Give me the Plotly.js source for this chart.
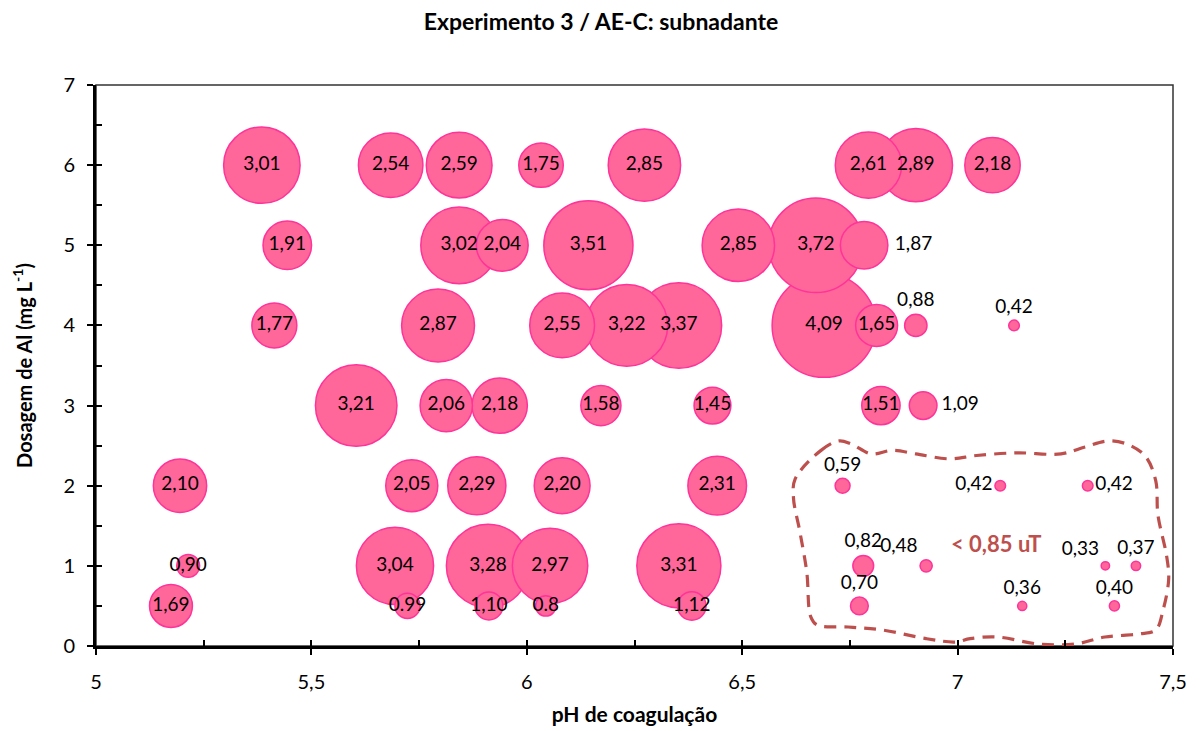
<!DOCTYPE html>
<html>
<head>
<meta charset="utf-8">
<script src="https://cdn.plot.ly/plotly-3.0.1.min.js"></script>
<style>
  html, body { margin: 0; padding: 0; background: #fff; }
  #chart { width: 1202px; height: 731px; }
</style>
</head>
<body>
<div id="chart"></div>
<script>
// Coagulation pH of each jar test
const phValues = [
  5.385, 5.684, 5.843, 6.033, 6.273, 6.793, 6.903, 7.081,
  5.444, 5.843, 5.943, 6.143, 6.491, 6.671, 6.783,
  5.414, 5.794, 6.082, 6.232, 6.353, 6.690, 6.812, 6.903, 7.131,
  5.604, 5.813, 5.937, 6.172, 6.431, 6.822, 6.920,
  5.195, 5.733, 5.884, 6.082, 6.442, 6.733, 7.099, 7.302,
  5.214, 5.694, 5.910, 6.054, 6.353, 6.781, 6.927, 7.343, 7.414,
  5.174, 5.723, 5.912, 6.044, 6.383, 6.772, 7.150, 7.364
];

// Aluminium dosage (mg/L)
const alDoses = [
  6, 6, 6, 6, 6, 6, 6, 6,
  5, 5, 5, 5, 5, 5, 5,
  4, 4, 4, 4, 4, 4, 4, 4, 4,
  3, 3, 3, 3, 3, 3, 3,
  2, 2, 2, 2, 2, 2, 2, 2,
  1, 1, 1, 1, 1, 1, 1, 1, 1,
  0.5, 0.5, 0.5, 0.5, 0.5, 0.5, 0.5, 0.5
];

// Residual turbidity of the supernatant (bubble size)
const turbidity = [
  3.01, 2.54, 2.59, 1.75, 2.85, 2.61, 2.89, 2.18,
  1.91, 3.02, 2.04, 3.51, 2.85, 3.72, 1.87,
  1.77, 2.87, 2.55, 3.22, 3.37, 4.09, 1.65, 0.88, 0.42,
  3.21, 2.06, 2.18, 1.58, 1.45, 1.51, 1.09,
  2.10, 2.05, 2.29, 2.20, 2.31, 0.59, 0.42, 0.42,
  0.90, 3.04, 3.28, 2.97, 3.31, 0.82, 0.48, 0.33, 0.37,
  1.69, 0.99, 1.10, 0.80, 1.12, 0.70, 0.36, 0.40
];

// Label text printed for each bubble
const turbidityLabels = [
  '3,01', '2,54', '2,59', '1,75', '2,85', '2,61', '2,89', '2,18',
  '1,91', '3,02', '2,04', '3,51', '2,85', '3,72', '1,87',
  '1,77', '2,87', '2,55', '3,22', '3,37', '4,09', '1,65', '0,88', '0,42',
  '3,21', '2,06', '2,18', '1,58', '1,45', '1,51', '1,09',
  '2,10', '2,05', '2,29', '2,20', '2,31', '0,59', '0,42', '0,42',
  '0,90', '3,04', '3,28', '2,97', '3,31', '0,82', '0,48', '0,33', '0,37',
  '1,69', '0.99', '1,10', '0.8', '1,12', '0,70', '0,36', '0,40'
];

// Outline around the low-turbidity region (pH, dosage)
const regionPh = [
  6.623, 6.683, 6.725, 6.753, 6.800, 6.848, 6.903, 6.981, 7.044, 7.138, 7.240,
  7.296, 7.351, 7.398, 7.437, 7.460, 7.465, 7.485, 7.490, 7.477, 7.460, 7.421,
  7.342, 7.273, 7.187, 7.092, 7.029, 6.996, 6.927, 6.825, 6.746, 6.674, 6.659,
  6.650, 6.634, 6.619, 6.623
];
const regionDose = [
  2.085, 2.441, 2.559, 2.522, 2.397, 2.441, 2.397, 2.335, 2.377, 2.410, 2.397,
  2.484, 2.559, 2.509, 2.360, 2.060, 1.635, 1.129, 0.836, 0.449, 0.200, 0.150,
  0.112, 0.025, 0.025, 0.112, 0.092, 0.050, 0.092, 0.200, 0.237, 0.262, 0.367,
  0.918, 1.423, 1.848, 2.085
];

const regionText = '< 0,85 uT';
const xTicks = [5, 5.5, 6, 6.5, 7, 7.5];
const yTicks = [0, 1, 2, 3, 4, 5, 6, 7];

// Where each label sits relative to its bubble
const labelSide = {
  '6.783|5': 'middle right', '6.92|3': 'middle right', '7.302|2': 'middle right',
  '7.099|2': 'middle left',
  '6.903|4': 'top center', '7.131|4': 'top center', '6.733|2': 'top center',
  '6.781|1': 'top center', '7.414|1': 'top center', '6.772|0.5': 'top center',
  '7.15|0.5': 'top center', '7.364|0.5': 'top center',
  '6.927|1': 'top left', '7.343|1': 'top left'
};

// Larger bubbles first so the small ones stay visible on top
const order = turbidity.map((v, i) => i).sort((a, b) => turbidity[b] - turbidity[a]);
const pick = arr => order.map(i => arr[i]);
const positions = order.map(i => labelSide[phValues[i] + '|' + alDoses[i]] || 'middle center');

const FONT = 'Lato, "Open Sans", sans-serif';
const REGION_COLOR = 'rgb(189,80,77)';

const bubbles = {
  type: 'scatter',
  mode: 'markers+text',
  x: pick(phValues),
  y: pick(alDoses),
  text: pick(turbidityLabels),
  textposition: positions,
  textfont: { family: FONT, size: 19, color: '#000' },
  marker: {
    size: pick(turbidity),
    sizemode: 'diameter',
    sizeref: 1 / 25.4,
    color: 'rgb(255,102,153)',
    line: { color: 'rgb(255,51,153)', width: 1.5 },
    opacity: 1
  },
  hoverinfo: 'x+y+text',
  showlegend: false,
  cliponaxis: false
};

const region = {
  type: 'scatter',
  mode: 'lines',
  x: regionPh,
  y: regionDose,
  xaxis: 'x2',
  yaxis: 'y2',
  line: { color: REGION_COLOR, width: 3.2, dash: '12px,8px', shape: 'spline', smoothing: 1 },
  hoverinfo: 'skip',
  showlegend: false
};

const layout = {
  width: 1202,
  height: 731,
  margin: { l: 96, r: 29, t: 85, b: 85 },
  paper_bgcolor: '#fff',
  plot_bgcolor: '#fff',
  separators: ', ',
  font: { family: FONT, color: '#000' },
  title: {
    text: '<b>Experimento 3 / AE-C: subnadante</b>',
    font: { family: FONT, size: 23, color: '#000' },
    x: 0.5, xref: 'container', xanchor: 'center',
    y: 0.97, yref: 'container', yanchor: 'middle'
  },
  xaxis: {
    range: [5, 7.5],
    tickvals: xTicks,
    ticktext: xTicks.map(v => String(v).replace('.', ',')),
    ticks: 'outside', ticklen: 6, tickwidth: 2, tickcolor: '#000',
    ticklabelstandoff: 10,
    showline: true, linecolor: '#000', linewidth: 3,
    showgrid: false, zeroline: false,
    tickfont: { family: FONT, size: 20, color: '#000' },
    title: { text: '<b>pH de coagulação</b>', font: { family: FONT, size: 21, color: '#000' }, standoff: 16 }
  },
  yaxis: {
    range: [0, 7],
    tickvals: yTicks,
    ticks: 'outside', ticklen: 6, tickwidth: 2, tickcolor: '#000',
    ticklabelstandoff: 8,
    showline: true, linecolor: '#000', linewidth: 3,
    showgrid: false, zeroline: false,
    tickfont: { family: FONT, size: 20, color: '#000' },
    title: { text: '<b>Dosagem de Al (mg L<sup>-1</sup>)</b>', font: { family: FONT, size: 20, color: '#000' }, standoff: 26 }
  },
  // Inner tick marks every quarter pH unit and every half dosage unit
  xaxis2: {
    overlaying: 'x', anchor: 'y2', side: 'bottom',
    range: [5, 7.5], dtick: 0.25, tick0: 5,
    ticks: 'inside', ticklen: 6, tickwidth: 2, tickcolor: '#000',
    showticklabels: false, showline: false, showgrid: false, zeroline: false
  },
  yaxis2: {
    overlaying: 'y', anchor: 'x2', side: 'left',
    range: [0, 7], dtick: 0.5, tick0: 0,
    ticks: 'inside', ticklen: 6, tickwidth: 2, tickcolor: '#000',
    showticklabels: false, showline: false, showgrid: false, zeroline: false
  },
  shapes: [{
    type: 'rect', xref: 'paper', yref: 'paper', x0: 0, x1: 1, y0: 0, y1: 1,
    line: { color: '#333', width: 1.5 }, layer: 'below'
  }],
  annotations: [{
    text: '<b>' + regionText.replace('<', '&lt;') + '</b>',
    x: 7.09, y: 1.28, xref: 'x', yref: 'y',
    showarrow: false,
    font: { family: FONT, size: 22, color: REGION_COLOR }
  }]
};

Plotly.newPlot('chart', [region, bubbles], layout, { displayModeBar: false, staticPlot: true });
</script>
</body>
</html>
